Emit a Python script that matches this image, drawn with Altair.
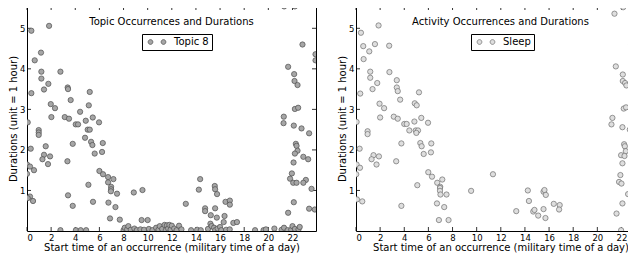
import altair as alt
import pandas as pd

# ---------------- data ----------------
topic_hours = [
    0.06, 0.36, 0.36, 0.64, 1.16, 1.19, 1.19, 1.41, 1.77, 1.83, 1.97, 2.32, 2.02, 2.77, 3.13, 3.48,
    3.37, 3.40, 3.62, 4.04, 4.23, 4.40, 4.87, 5.12, 5.20, 5.45, 5.97, 5.03, 5.20, 0.97,
    21.31, 22.20, 22.83, 23.91, 23.91, 21.64, 22.14, 22.17, 22.42, 22.20, 22.47, 21.28, 21.26, 22.11,
    22.75, 23.38,
    0.97, 0.97, 0.31, 0.00, 0.25, 0.58, 0.00, 1.55, 1.41, 1.28, 1.91, 1.74, 3.35, 3.79, 5.31, 5.42,
    6.28, 6.22, 5.61, 4.81, 6.00, 6.30, 6.72, 7.16, 6.72, 6.97, 6.97, 6.95, 7.46, 5.09, 3.40, 0.25,
    0.06, 0.50, 3.79, 5.47, 6.75, 7.33, 6.88, 7.69, 8.85, 9.57, 13.16, 14.24, 14.35, 14.76, 14.76,
    15.56, 15.59, 15.75, 15.59, 15.73, 15.23, 16.45, 16.81, 16.81, 16.37,
    22.28, 22.34, 22.42, 22.20, 22.90, 23.30, 22.09, 21.95, 21.80, 22.06, 22.34, 23.11, 22.90, 23.58,
    22.11, 21.64, 23.38, 23.85,
    2.77, 4.05, 4.45, 4.90, 8.00, 8.10, 8.30, 8.40, 8.60, 8.90, 9.10, 9.40, 9.50, 9.70, 10.00, 10.10,
    10.40, 10.70, 10.90, 11.00, 11.20, 11.40, 11.50, 11.60, 11.70, 11.80, 11.90, 12.00, 12.20, 12.40,
    12.60, 12.80, 13.60, 14.10, 14.40, 15.00, 15.20, 15.30, 15.50, 15.60, 15.80, 16.00, 16.10, 16.30,
    16.50, 16.80, 17.10, 17.40, 18.90, 19.60, 19.80, 20.50, 21.10, 21.30, 21.60, 21.90, 22.00, 22.20,
    22.50, 22.60,
]
topic_durations = [
    2.68, 4.94, 3.40, 4.21, 4.40, 3.93, 3.76, 3.49, 3.63, 5.06, 3.13, 3.03, 2.81, 3.93, 2.81, 2.77,
    3.54, 3.50, 3.23, 2.63, 2.63, 2.94, 2.72, 3.10, 3.43, 2.80, 2.68, 2.50, 2.50, 2.49,
    5.54, 5.54, 4.60, 4.36, 4.21, 4.05, 3.87, 3.70, 3.60, 3.01, 3.04, 2.82, 2.66, 2.60,
    2.53, 2.41,
    2.43, 2.37, 2.03, 1.64, 1.59, 1.50, 1.41, 2.09, 1.88, 1.77, 1.84, 1.65, 1.72, 2.15, 2.20, 2.12,
    2.17, 1.95, 1.91, 2.30, 1.48, 1.40, 1.33, 1.28, 1.20, 1.09, 1.03, 0.98, 0.92, 1.14, 0.88, 0.85,
    0.81, 0.74, 0.62, 0.72, 0.70, 0.59, 0.31, 0.28, 0.95, 1.01, 0.67, 1.02, 1.28, 0.56, 0.49,
    1.11, 1.03, 0.91, 0.56, 0.33, 0.39, 0.72, 0.75, 0.65, 0.37,
    2.15, 2.10, 1.98, 1.91, 1.83, 1.77, 1.69, 1.42, 1.29, 1.19, 1.19, 1.26, 1.19, 1.04,
    0.71, 0.45, 0.55, 0.53,
    0.02, 0.02, 0.02, 0.02, 0.02, 0.08, 0.04, 0.12, 0.03, 0.06, 0.02, 0.04, 0.27, 0.03, 0.27, 0.05,
    0.02, 0.08, 0.03, 0.12, 0.05, 0.15, 0.02, 0.14, 0.06, 0.15, 0.03, 0.13, 0.06, 0.02,
    0.13, 0.04, 0.02, 0.03, 0.02, 0.05, 0.18, 0.12, 0.08, 0.02, 0.06, 0.10, 0.02, 0.22,
    0.03, 0.04, 0.20, 0.22, 0.02, 0.02, 0.04, 0.06, 0.03, 0.08, 0.02, 0.03, 0.12, 0.05,
    0.04, 0.10,
]

sleep_hours = [
    0.05, 0.41, 0.60, 0.63, 0.35, 1.10, 1.18, 1.18, 1.37, 1.57, 1.76, 1.87, 1.95, 2.33, 2.00, 2.75,
    2.77, 3.13, 3.46, 3.38, 3.38, 3.46, 3.66, 4.00, 4.20, 4.87, 5.03, 5.22, 4.84, 5.41, 5.97, 4.42,
    4.95, 5.14, 5.00, 0.96, 0.96, 0.30, 0.05, 0.33, 0.02, 1.45, 1.29, 1.90, 1.70, 3.33, 3.76, 5.33,
    5.44, 6.24, 6.21, 5.61, 5.99, 6.30, 7.15, 6.73, 6.98, 6.96, 6.96, 7.00, 7.50, 5.08, 9.54, 11.35,
    0.08, 0.52, 3.76, 6.71, 7.31, 6.87, 7.67,
    13.28, 14.24, 14.33, 14.69, 14.79, 15.10, 15.54, 15.54, 15.62, 15.73, 15.70, 16.39, 16.88, 16.83,
    21.17, 21.25, 22.08, 22.69, 23.38, 22.22, 22.28, 22.36, 21.97, 22.25, 22.08, 22.90, 23.23, 21.91,
    21.80, 22.00, 23.07, 22.85, 23.43, 22.55, 22.08, 21.59, 21.97,
    21.42, 22.14, 22.80, 21.53, 22.11, 22.11, 22.30, 22.41, 22.19, 22.38,
]
sleep_durations = [
    2.69, 4.89, 4.56, 4.24, 3.39, 4.43, 3.93, 3.78, 3.50, 4.61, 3.65, 5.07, 3.14, 3.03, 2.80, 4.57,
    3.92, 2.82, 2.77, 3.72, 3.54, 3.45, 3.24, 2.64, 2.64, 3.15, 3.10, 3.42, 2.70, 2.79, 2.67, 2.48,
    2.48, 2.48, 2.42, 2.46, 2.39, 2.03, 1.64, 1.56, 1.40, 1.87, 1.77, 1.84, 1.64, 1.72, 2.16, 2.17,
    2.09, 2.16, 1.94, 1.90, 1.45, 1.34, 1.27, 1.19, 1.09, 1.06, 0.99, 0.90, 0.90, 1.13, 0.99, 1.40,
    0.78, 0.73, 0.62, 0.68, 0.59, 0.27, 0.27,
    0.49, 1.00, 0.74, 0.48, 0.52, 0.38, 0.54, 0.97, 1.01, 0.89, 0.32, 0.67, 0.64, 0.53,
    2.63, 2.79, 2.56, 2.50, 2.41, 2.14, 2.09, 1.97, 1.87, 1.85, 1.67, 1.77, 1.77, 1.38,
    1.21, 1.17, 1.28, 1.18, 1.03, 0.91, 0.68, 0.43, 0.02,
    5.36, 5.52, 4.61, 4.06, 3.86, 3.70, 3.65, 3.59, 3.02, 3.05,
]

x_ticks = [0, 2, 4, 6, 8, 10, 12, 14, 16, 18, 20, 22]
y_ticks = [1, 2, 3, 4, 5]
x_title = "Start time of an occurrence (military time of a day)"
y_title = "Durations (unit = 1 hour)"

W, H = 289, 225
XMAX, YMAX = 23.95, 5.55
FONT = "DejaVu Sans"

# two-marker legend symbol (matplotlib style scatterpoints=2)
TWO_DOTS = ("M -2.225,0 A 0.6,0.6 0 1,0 -1.025,0 A 0.6,0.6 0 1,0 -2.225,0 Z "
            "M 1.025,0 A 0.6,0.6 0 1,0 2.225,0 A 0.6,0.6 0 1,0 1.025,0 Z")


def panel(hours, durs, label, title, fill, stroke):
    xs = alt.Scale(domain=[0, XMAX], nice=False, zero=False)
    ys = alt.Scale(domain=[0, YMAX], nice=False, zero=False)
    xax = alt.Axis(values=x_ticks, title=x_title, format="d")
    yax = alt.Axis(values=y_ticks, title=y_title, format="d")

    df = pd.DataFrame({"h": hours, "d": durs, "s": [label] * len(hours)})
    pts = alt.Chart(df).mark_circle(size=28, opacity=1, stroke=stroke, strokeWidth=0.7,
                                    clip=True).encode(
        x=alt.X("h:Q", scale=xs, axis=xax),
        y=alt.Y("d:Q", scale=ys, axis=yax),
        fill=alt.Fill("s:N", scale=alt.Scale(domain=[label], range=[fill]),
                      legend=alt.Legend(
                          title=None, orient="none", legendX=115, legendY=28,
                          padding=3, strokeColor="black", fillColor="white",
                          symbolType=TWO_DOTS, symbolSize=64, symbolOffset=7,
                          symbolStrokeColor=stroke, symbolStrokeWidth=0.7,
                          symbolOpacity=1, labelOffset=12, labelFontSize=10,
                          labelFont=FONT, labelColor="black")),
    )

    xt = pd.DataFrame({"h": x_ticks})
    yt = pd.DataFrame({"d": y_ticks})
    tick_top = alt.Chart(xt).mark_rule(color="black", strokeWidth=0.8).encode(
        x=alt.X("h:Q", scale=xs, axis=xax), y=alt.value(0), y2=alt.value(4))
    tick_bot = alt.Chart(xt).mark_rule(color="black", strokeWidth=0.8).encode(
        x=alt.X("h:Q", scale=xs, axis=xax), y=alt.value(H - 4), y2=alt.value(H))
    tick_left = alt.Chart(yt).mark_rule(color="black", strokeWidth=0.8).encode(
        y=alt.Y("d:Q", scale=ys, axis=yax), x=alt.value(0), x2=alt.value(4))
    tick_right = alt.Chart(yt).mark_rule(color="black", strokeWidth=0.8).encode(
        y=alt.Y("d:Q", scale=ys, axis=yax), x=alt.value(W - 4), x2=alt.value(W))

    ttl = alt.Chart(pd.DataFrame({"t": [title]})).mark_text(
        font=FONT, fontSize=10, color="black", baseline="middle", align="center").encode(
        x=alt.value(W / 2), y=alt.value(16), text="t:N")

    return alt.layer(tick_top, tick_bot, tick_left, tick_right, pts, ttl).properties(
        width=W, height=H)


left = panel(topic_hours, topic_durations, "Topic 8", "Topic Occurrences and Durations",
             "#a6a6a6", "#4d4d4d")
right = panel(sleep_hours, sleep_durations, "Sleep", "Activity Occurrences and Durations",
              "#dedede", "#6e6e6e")

chart = alt.hconcat(left, right, spacing=20).resolve_scale(
    fill="independent").resolve_legend(fill="independent").properties(
    padding={"left": 0, "top": -3, "right": -18, "bottom": 0}
).configure_view(stroke="black", strokeWidth=1).configure_axis(
    domain=False, ticks=False, grid=False,
    labelFont=FONT, labelFontSize=8.5, labelColor="black", labelPadding=2,
    titleFont=FONT, titleFontSize=10, titleFontWeight="normal", titleColor="black",
    titlePadding=1,
)

chart.save("out.html", embed_options={"renderer": "svg", "actions": False})
